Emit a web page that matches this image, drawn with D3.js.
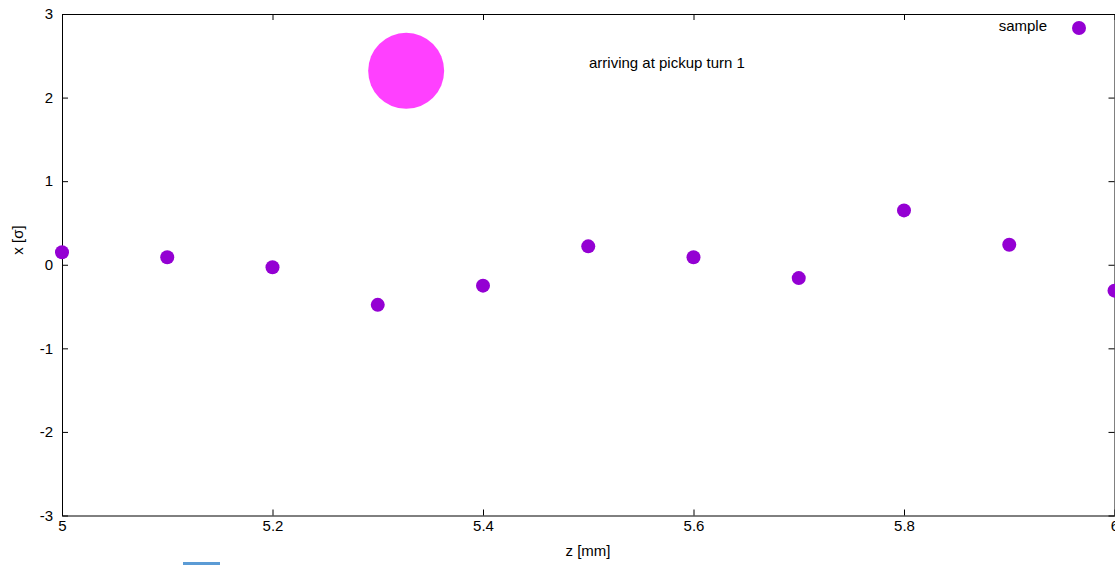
<!DOCTYPE html>
<html><head><meta charset="utf-8">
<script src="https://cdn.jsdelivr.net/npm/d3@7"></script>
<style>body{margin:0;background:#fff;} svg{display:block;font-family:"Liberation Sans",Arial,sans-serif;}</style>
</head><body>
<svg id="chart" width="1115" height="565"></svg>
<script>
const zValues = [5.0, 5.1, 5.2, 5.3, 5.4, 5.5, 5.6, 5.7, 5.8, 5.9, 6.0];
const xValues = [0.15, 0.09, -0.03, -0.48, -0.25, 0.22, 0.09, -0.16, 0.65, 0.24, -0.31];
const bigPoint = [{z: 5.327, x: 2.32}];
const xTicks = [5, 5.2, 5.4, 5.6, 5.8, 6];
const yTicks = [-3, -2, -1, 0, 1, 2, 3];
const titleText = "arriving at pickup turn 1";
const legendLabel = "sample";

const svg = d3.select("#chart");
const FS = "15px";
const x = d3.scaleLinear().domain([5, 6]).range([62, 1114.5]);
const y = d3.scaleLinear().domain([-3, 3]).range([515.5, 14]);

const fmt = d => String(d);
function styleAxis(g){
  g.select(".domain").attr("stroke","#000").attr("stroke-width",1);
  g.selectAll(".tick line").attr("stroke","#000");
  g.selectAll(".tick text").attr("fill","#000").attr("font-size",FS);
}
// bottom
svg.append("g").attr("transform",`translate(0,${y(-3)})`)
  .call(d3.axisBottom(x).tickValues(xTicks).tickFormat(fmt).tickSizeInner(-6).tickSizeOuter(0).tickPadding(5))
  .call(styleAxis);
// top
svg.append("g").attr("transform",`translate(0,${y(3)})`)
  .call(d3.axisTop(x).tickValues(xTicks).tickFormat("").tickSizeInner(-6).tickSizeOuter(0))
  .call(styleAxis);
// left
svg.append("g").attr("transform",`translate(${x(5)},0)`)
  .call(d3.axisLeft(y).tickValues(yTicks).tickFormat(fmt).tickSizeInner(-6).tickSizeOuter(0).tickPadding(9))
  .call(styleAxis);
// right
svg.append("g").attr("transform",`translate(${x(6)},0)`)
  .call(d3.axisRight(y).tickValues(yTicks).tickFormat("").tickSizeInner(-6).tickSizeOuter(0))
  .call(styleAxis);

// big circle
svg.append("g").selectAll("circle").data(bigPoint).join("circle")
  .attr("cx", d => x(d.z)).attr("cy", d => y(d.x)).attr("r", 38).attr("fill", "#ff40ff");

// points
svg.append("g").selectAll("circle").data(zValues.map((z,i)=>({z, x:xValues[i]}))).join("circle")
  .attr("cx", d => x(d.z)).attr("cy", d => y(d.x)).attr("r", 7).attr("fill", "#9400d3");

// title
svg.append("text").attr("x", 589).attr("y", 67.5).attr("font-size",FS).attr("fill","#000").text(titleText);

// legend
svg.append("text").attr("x", 1047).attr("y", 31).attr("text-anchor","end").attr("font-size",FS).attr("fill","#000").text(legendLabel);
svg.append("circle").attr("cx", 1079).attr("cy", 28).attr("r", 7).attr("fill", "#9400d3");

// axis labels
svg.append("text").attr("x", 588).attr("y", 555.5).attr("text-anchor","middle").attr("font-size",FS).attr("fill","#000").text("z [mm]");
svg.append("text").attr("transform","translate(23,240) rotate(-90)").attr("text-anchor","middle").attr("font-size",FS).attr("fill","#000").text("x [σ]");

// small blue bar at bottom edge
svg.append("rect").attr("x",183).attr("y",562).attr("width",37).attr("height",3).attr("fill","#5b9bd5");
</script>
</body></html>
